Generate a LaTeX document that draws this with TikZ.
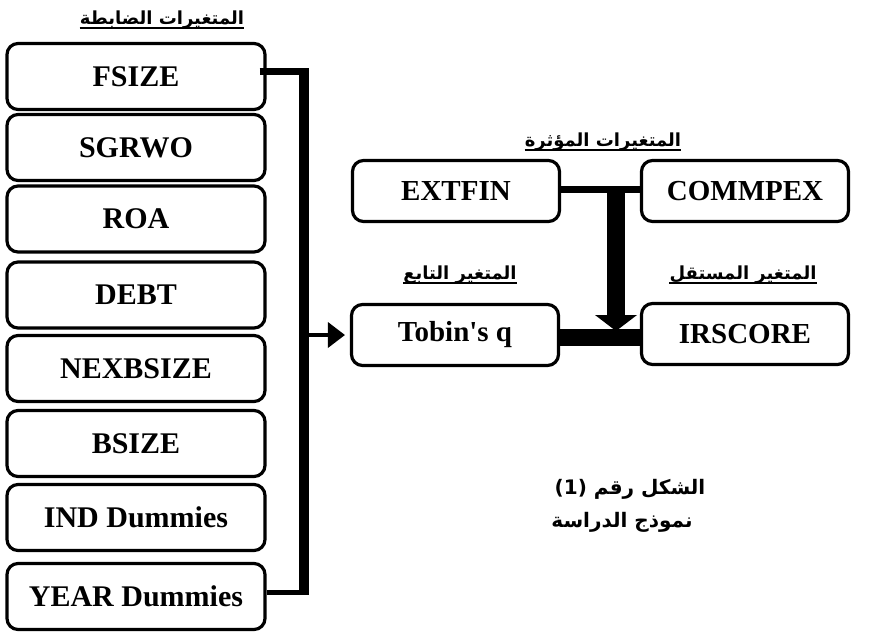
\documentclass[tikz,border=0pt]{standalone}
\usepackage{fontspec}
\setmainfont{Liberation Serif}[Ligatures=TeXOff]
\newfontfamily\arabicfont[Script=Arabic]{DejaVu Sans}
\newfontfamily\dvs{DejaVu Sans}
\TeXXeTstate=1
\usetikzlibrary{calc}
\tikzset{
  box/.style={draw, line width=3.2pt, rounded corners=11pt, minimum width=258pt,
    minimum height=66pt, inner sep=0pt, font=\fontsize{30}{36}\selectfont\bfseries},
  rbox/.style={box, minimum width=207pt, minimum height=61pt,
    font=\fontsize{29}{34}\selectfont\bfseries},
  lbl/.style={inner sep=0pt, anchor=base, font=\arabicfont\bfseries\fontsize{18}{22}\selectfont},
  captxt/.style={inner sep=0pt, anchor=base, font=\arabicfont\bfseries\fontsize{20}{24}\selectfont},
  uline/.style={line width=1.4pt}
}
\begin{document}
\begin{tikzpicture}[x=1pt,y=-1pt]
\useasboundingbox[fill=white] (0,0) rectangle (876,633);
% left column
\node[box] (fsize) at (136,76.5) {FSIZE};
\node[box] (sgrwo) at (136,147.5) {SGRWO};
\node[box] (roa)   at (136,219) {ROA};
\node[box] (debt)  at (136,295) {DEBT};
\node[box] (nexb)  at (136,368.5) {NEXBSIZE};
\node[box] (bsize) at (136,443.5) {BSIZE};
\node[box] (ind)   at (136,517.5) {IND Dummies};
\node[box] (year)  at (136,596.5) {YEAR Dummies};
% right boxes
\node[rbox] (extfin)  at (456,191) {EXTFIN};
\node[rbox] (commpex) at (745,191) {COMMPEX};
\node[rbox] (tobin)   at (455,335) {Tobin's q};
\node[rbox] (irscore) at (745,334) {IRSCORE};
% labels
\node[lbl] (tctrl) at (162,24) {\beginR المتغيرات الضابطة\endR};
\node[lbl] (tinf)  at (603,146) {\beginR المتغيرات المؤثرة\endR};
\node[lbl] (tdep)  at (460,279) {\beginR المتغير التابع\endR};
\node[lbl] (tind)  at (743,279) {\beginR المتغير المستقل\endR};
\foreach \n in {tctrl,tinf,tdep,tind}{
  \draw[uline] ([yshift=-4pt]\n.base west) -- ([yshift=-4pt]\n.base east);
}
\node[captxt] (cap1) at (630,494) {\beginR الشكل رقم \beginL{\dvs\bfseries(1)}\endL\endR};
\node[captxt] (cap2) at (622,527) {\beginR نموذج الدراسة\endR};
% left bracket
\coordinate (bt) at (309,71.5);
\coordinate (bb) at (309,592);
\coordinate (bm) at (304,335);
\draw[line width=7pt] ([shift={(-7pt,5pt)}]fsize.east) -- (bt);
\draw[line width=5pt] ([yshift=4.5pt]year.east) -- (bb);
\draw[line width=10pt] (304,68) -- (304,594.5);
\draw[line width=3.5pt, shorten >=22pt] (bm) -- (tobin.west);
\fill ($(tobin.west)+(-5,0)$) -- ++(-17,-13) -- ++(0,26) -- cycle;
% right connectors
\draw[line width=7pt] ([yshift=2pt]extfin.east) -- ([yshift=2pt]commpex.west);
\coordinate (jtop) at (616,186);
\coordinate (jbot) at (616,331);
\fill ($(jtop)+(-9,0)$) rectangle ($(jbot)+(9,-14)$);
\fill ($(jbot)+(-21,-16)$) -- ($(jbot)+(21,-16)$) -- (jbot) -- cycle;
\draw[line width=17pt] ([yshift=-2pt]tobin.east) -- ([yshift=-2pt]tobin.east -| irscore.west);
\end{tikzpicture}
\end{document}
